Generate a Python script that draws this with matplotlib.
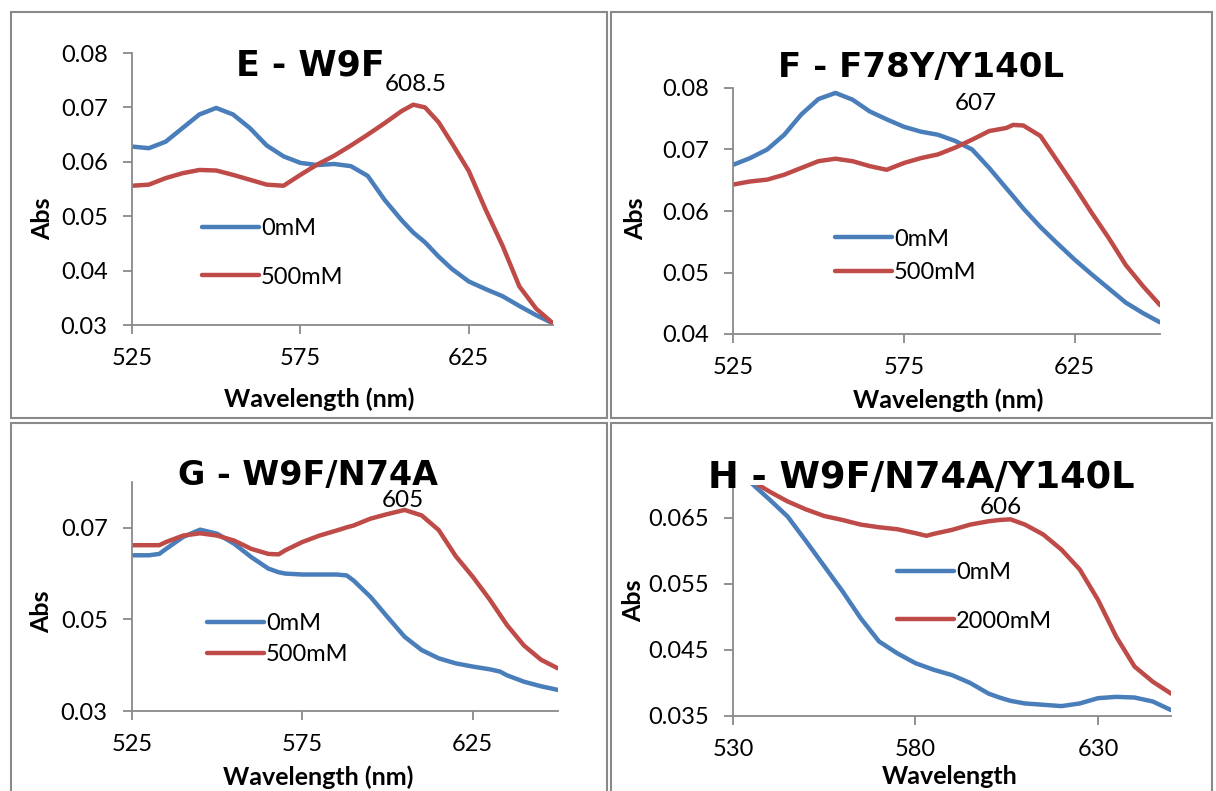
import matplotlib
matplotlib.use("Agg")
import matplotlib.pyplot as plt
from matplotlib.patches import Rectangle

# absorbance spectra, 0 mM vs added ligand, four mutants
wl_e = [525, 530, 535, 540, 545, 550, 555, 560, 565, 570, 575, 580, 585, 590,
        595, 600, 605, 608.5, 612, 616, 620, 625, 630, 635, 640, 645, 650]
blue_e = [0.0628, 0.0625, 0.0637, 0.0662, 0.0687, 0.0699, 0.0687, 0.0662, 0.0630,
          0.0610, 0.0598, 0.0594, 0.0596, 0.0592, 0.0574, 0.0530, 0.0493, 0.0470,
          0.0452, 0.0426, 0.0403, 0.0380, 0.0366, 0.0353, 0.0335, 0.0318, 0.0303]
red_e = [0.0556, 0.0558, 0.0570, 0.0579, 0.0585, 0.0584, 0.0576, 0.0567, 0.0558,
         0.0556, 0.0576, 0.0595, 0.0611, 0.0630, 0.0650, 0.0671, 0.0693, 0.0705,
         0.0700, 0.0673, 0.0634, 0.0583, 0.0512, 0.0446, 0.0371, 0.0330, 0.0303]

wl_f = [525, 530, 535, 540, 545, 550, 555, 560, 565, 570, 575, 580, 585, 590,
        595, 600, 605, 607, 610, 615, 620, 625, 630, 635, 640, 645, 650]
blue_f = [0.0675, 0.0686, 0.0700, 0.0724, 0.0757, 0.0782, 0.0792, 0.0781, 0.0762,
          0.0749, 0.0737, 0.0729, 0.0724, 0.0714, 0.0700, 0.0670, 0.0637, 0.0624,
          0.0604, 0.0574, 0.0547, 0.0521, 0.0497, 0.0474, 0.0451, 0.0434, 0.0419]
red_f = [0.0643, 0.0648, 0.0651, 0.0659, 0.0670, 0.0681, 0.0685, 0.0681, 0.0673,
         0.0667, 0.0678, 0.0686, 0.0692, 0.0703, 0.0716, 0.0730, 0.0735, 0.0740,
         0.0739, 0.0722, 0.0681, 0.0640, 0.0597, 0.0556, 0.0512, 0.0478, 0.0447]

wl_g = [525, 530, 533, 535, 540, 545, 550, 555, 560, 565, 568, 570, 575, 580, 585,
        588, 590, 595, 600, 605, 610, 615, 620, 625, 630, 633, 635, 640, 645, 650]
blue_g = [0.0640, 0.0640, 0.0643, 0.0654, 0.0680, 0.0696, 0.0687, 0.0665, 0.0636,
          0.0611, 0.0603, 0.0600, 0.0598, 0.0598, 0.0598, 0.0596, 0.0585, 0.0549,
          0.0505, 0.0462, 0.0433, 0.0415, 0.0404, 0.0397, 0.0391, 0.0386, 0.0378,
          0.0364, 0.0354, 0.0346]
red_g = [0.0662, 0.0662, 0.0662, 0.0669, 0.0683, 0.0688, 0.0683, 0.0672, 0.0654,
         0.0643, 0.0642, 0.0651, 0.0669, 0.0683, 0.0694, 0.0701, 0.0705, 0.0720,
         0.0730, 0.0739, 0.0727, 0.0695, 0.0638, 0.0593, 0.0543, 0.0510, 0.0488,
         0.0443, 0.0412, 0.0393]

wl_h = [530, 535, 540, 545, 550, 555, 560, 565, 570, 575, 580, 583, 585, 590,
        595, 600, 603, 606, 610, 615, 620, 625, 630, 635, 640, 645, 650]
blue_h = [0.0725, 0.0703, 0.0678, 0.0652, 0.0615, 0.0577, 0.0539, 0.0498, 0.0463,
          0.0445, 0.0430, 0.0424, 0.0420, 0.0412, 0.0400, 0.0384, 0.0378, 0.0373,
          0.0369, 0.0367, 0.0365, 0.0369, 0.0377, 0.0379, 0.0378, 0.0372, 0.0359]
red_h = [0.0728, 0.0707, 0.0690, 0.0675, 0.0663, 0.0653, 0.0647, 0.0640, 0.0636,
         0.0633, 0.0627, 0.0623, 0.0626, 0.0632, 0.0640, 0.0645, 0.0647, 0.0648,
         0.0640, 0.0625, 0.0602, 0.0572, 0.0526, 0.0470, 0.0425, 0.0402, 0.0384]

titles = ["E - W9F", "F - F78Y/Y140L", "G - W9F/N74A", "H - W9F/N74A/Y140L"]
conc_labels = [["0mM", "500mM"], ["0mM", "500mM"], ["0mM", "500mM"], ["0mM", "2000mM"]]
xlabels = ["Wavelength (nm)", "Wavelength (nm)", "Wavelength (nm)", "Wavelength"]
peaks = [608.5, 607, 605, 606]

BLUE = "#4A7EBB"
RED = "#BE4B48"
GREY = "#898989"

W, H = 1216, 791
fig = plt.figure(figsize=(W / 100, H / 100), dpi=100)
fig.patch.set_facecolor("white")


def rect(l, t, r, b):
    return [l / W, 1 - b / H, (r - l) / W, (b - t) / H]


def fxy(x, y):
    return (x / W, 1 - y / H)


# panel frames
for (l, t, r, b) in [(11, 12, 607, 418), (611, 12, 1212, 418),
                     (11, 423, 607, 795), (611, 423, 1212, 795)]:
    fig.add_artist(Rectangle(fxy(l, b), (r - l) / W, (b - t) / H, transform=fig.transFigure,
                             fill=False, edgecolor=GREY, lw=1.5))

panels = [
    dict(data=(wl_e, blue_e, red_e), box=(132, 53, 553, 325), xlim=(525, 650), xt=[525, 575, 625],
         ylim=(0.03, 0.08), yt=[0.03, 0.04, 0.05, 0.06, 0.07, 0.08], yfmt="%.2f",
         title=(310, 75, 25), ylab=(43, 219), xlab=(319, 399), leg=(202, 253, 1.15), pk=(3, 14)),
    dict(data=(wl_f, blue_f, red_f), box=(733, 88, 1160, 334), xlim=(525, 650), xt=[525, 575, 625],
         ylim=(0.04, 0.08), yt=[0.04, 0.05, 0.06, 0.07, 0.08], yfmt="%.2f",
         title=(921, 77, 24.5), ylab=(636, 219), xlab=(948, 400), leg=(835, 256, 0.55), pk=(-37, 15)),
    dict(data=(wl_g, blue_g, red_g), box=(132, 482, 558, 711), xlim=(525, 650), xt=[525, 575, 625],
         ylim=(0.03, 0.08), yt=[0.03, 0.05, 0.07], yfmt="%.2f",
         title=(308, 485, 24), ylab=(42, 612), xlab=(318, 777), leg=(207, 639, 0.42), pk=(-2, 3)),
    dict(data=(wl_h, blue_h, red_h), box=(733, 485, 1171, 716), xlim=(530, 650), xt=[530, 580, 630],
         ylim=(0.035, 0.07), yt=[0.035, 0.045, 0.055, 0.065], yfmt="%.3f",
         title=(921, 488, 26.5), ylab=(634, 601), xlab=(950, 777), leg=(897, 597, 1.15), pk=(-10, 5)),
]

for i, p in enumerate(panels):
    wl, b, r = p["data"]
    ax = fig.add_axes(rect(*p["box"]))
    lb, = ax.plot(wl, b, color=BLUE, lw=3.2, solid_capstyle="round", solid_joinstyle="round")
    lr, = ax.plot(wl, r, color=RED, lw=3.2, solid_capstyle="round", solid_joinstyle="round")
    ax.set_xlim(*p["xlim"])
    ax.set_ylim(*p["ylim"])
    ax.set_xticks(p["xt"])
    ax.set_yticks(p["yt"])
    ax.set_yticklabels([p["yfmt"] % v for v in p["yt"]])
    for s in ["top", "right"]:
        ax.spines[s].set_visible(False)
    for s in ["left", "bottom"]:
        ax.spines[s].set_color(GREY)
        ax.spines[s].set_linewidth(1.3)
    ax.tick_params(direction="out", length=6.5, width=1.3, color=GREY,
                   labelsize=17, labelcolor="black")
    ax.tick_params(axis="x", pad=10)
    ax.tick_params(axis="y", pad=11)
    for t in ax.get_xticklabels() + ax.get_yticklabels():
        t.set_fontfamily("Lato")
    ax.patch.set_alpha(0)

    # peak position of the ligand-bound spectrum
    pk = peaks[i]
    pv = r[wl.index(pk)]
    ax.annotate(str(pk), xy=(pk, pv), xytext=(p["pk"][0] / 1.389, p["pk"][1] / 1.389),
                textcoords="offset points", ha="center", va="baseline",
                fontsize=17.5, family="Lato", annotation_clip=False)

    lx, ly, sp = p["leg"]
    ax.legend([lb, lr], conc_labels[i], loc="center left", bbox_to_anchor=fxy(lx, ly),
              bbox_transform=fig.transFigure, frameon=False, handlelength=2.4,
              handletextpad=0.1, labelspacing=sp, borderpad=0, borderaxespad=0,
              prop={"family": "Lato", "size": 17})

    tx, ty, ts = p["title"]
    fig.text(*fxy(tx, ty), titles[i], ha="center", va="baseline", fontsize=ts,
             fontweight="bold", family="DejaVu Sans", zorder=10)
    fig.text(*fxy(*p["ylab"]), "Abs", rotation=90, ha="center", va="center",
             fontsize=18, fontweight="bold", family="Lato")
    fig.text(*fxy(*p["xlab"]), xlabels[i], ha="center", va="center",
             fontsize=18, fontweight="bold", family="Lato")

fig.savefig("out.png", dpi=100, facecolor="white")
